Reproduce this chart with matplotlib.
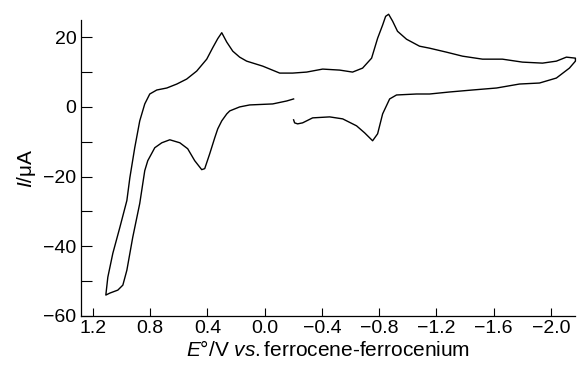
import numpy as np
import matplotlib.pyplot as plt
from matplotlib.ticker import FixedLocator

# potential (V vs Fc/Fc+) and current (uA), one continuous scan
potential = [-0.202, -0.209, -0.230, -0.265, -0.335, -0.454, -0.545, -0.642, -0.698,
             -0.754, -0.789, -0.824, -0.873, -0.921, -1.061, -1.152, -1.292, -1.452,
             -1.620, -1.780, -1.920, -2.038, -2.129, -2.171, -2.171, -2.108, -2.038,
             -1.941, -1.801, -1.661, -1.522, -1.382, -1.271, -1.152, -1.082, -0.991,
             -0.928, -0.894, -0.866, -0.845, -0.824, -0.789, -0.747, -0.684, -0.614, -0.524,
             -0.405, -0.293, -0.195, -0.105, 0.014, 0.126, 0.175, 0.223, 0.265,
             0.300, 0.328, 0.363, 0.405, 0.475, 0.545, 0.614, 0.684, 0.754,
             0.803, 0.838, 0.873, 0.908, 0.942, 0.963, 1.012, 1.061, 1.096,
             1.110, 1.082, 1.026, 0.991, 0.963, 0.922, 0.873, 0.838, 0.817,
             0.768, 0.719, 0.663, 0.593, 0.538, 0.489, 0.440, 0.419, 0.384,
             0.349, 0.328, 0.300, 0.265, 0.244, 0.175, 0.105, -0.056, -0.154, -0.202]
current = [-3.71, -4.57, -4.86, -4.57, -3.14, -2.86, -3.43, -5.43, -7.43,
           -9.71, -7.71, -2.0, 2.29, 3.43, 3.71, 3.71, 4.29, 4.86,
           5.43, 6.57, 6.86, 8.29, 11.14, 13.14, 14.0, 14.29, 13.14,
           12.57, 12.86, 13.71, 13.71, 14.57, 15.71, 16.86, 17.43, 19.43,
           21.71, 24.6, 26.6, 26.0, 23.5, 19.71, 14.0, 11.14, 10.0, 10.57,
           10.86, 10.0, 9.71, 9.71, 11.71, 13.14, 14.29, 16.0, 18.6,
           21.3, 19.6, 17.0, 13.71, 10.29, 8.0, 6.57, 5.43, 4.86,
           3.71, 0.86, -4.0, -11.71, -20.29, -26.86, -34.57, -42.0, -48.86,
           -54.0, -53.43, -52.57, -51.14, -46.86, -37.43, -27.71, -18.29, -15.43,
           -11.71, -10.29, -9.43, -10.29, -12.0, -15.43, -18.0, -17.71, -13.43,
           -8.86, -6.29, -4.0, -2.0, -1.14, 0.0, 0.57, 0.86, 1.71, 2.29]

xticks = [1.2, 0.8, 0.4, 0.0, -0.4, -0.8, -1.2, -1.6, -2.0]
xticklabels = ['1.2', '0.8', '0.4', '0.0', '\u22120.4', '\u22120.8', '\u22121.2', '\u22121.6', '\u22122.0']
yticks = [-60, -40, -20, 0, 20]
yticklabels = ['\u221260', '\u221240', '\u221220', '0', '20']
yminor = [-50, -30, -10, 10]

plt.rcParams['font.family'] = ['Liberation Sans', 'DejaVu Sans']
plt.rcParams['mathtext.fontset'] = 'custom'
plt.rcParams['mathtext.it'] = 'Liberation Sans:italic'
plt.rcParams['mathtext.rm'] = 'Liberation Sans'

fig = plt.figure(figsize=(5.77, 3.67), dpi=100)
ax = fig.add_axes([0.140, 0.139, 0.857, 0.807])

ax.plot(potential, current, color='black', lw=1.0, clip_on=False,
        solid_joinstyle='round')

ax.set_xlim(1.285, -2.17)
ax.set_ylim(-60, 25)

ax.spines['top'].set_visible(False)
ax.spines['right'].set_visible(False)
ax.spines['left'].set_linewidth(0.9)
ax.spines['bottom'].set_linewidth(0.9)

ax.set_xticks(xticks)
ax.set_xticklabels(xticklabels, fontsize=14)
ax.yaxis.set_major_locator(FixedLocator(yticks))
ax.yaxis.set_minor_locator(FixedLocator(yminor))
ax.set_yticklabels(yticklabels, fontsize=14)

ax.tick_params(axis='x', direction='in', length=6, width=0.8, pad=3)
ax.tick_params(axis='y', which='both', direction='in', length=8, width=0.8, pad=3)

ax.set_xlabel(r'$E$°/V $vs.$ferrocene-ferrocenium', fontsize=15, labelpad=2)
ax.set_ylabel(r'$I$/μA', fontsize=15, labelpad=4)

fig.savefig('out.png', dpi=100)
